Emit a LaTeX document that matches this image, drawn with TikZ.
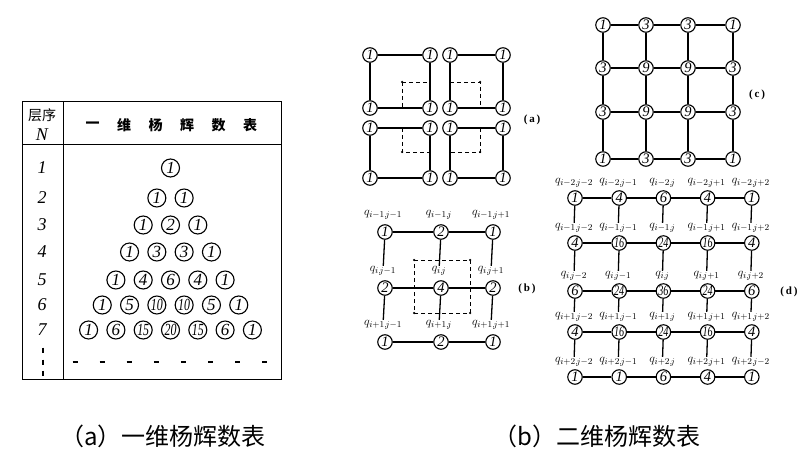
\documentclass[tikz,border=0pt]{standalone}
\usepackage{fontspec}
\usepackage{graphicx}
\setmainfont{Liberation Serif}
\newfontfamily\cjk{Noto Sans CJK SC}
\begin{document}
\begin{tikzpicture}[x=1pt,y=-1pt,
  cn/.style={circle,draw,line width=1.1pt,inner sep=0pt,minimum size=14.5pt,fill=white,font=\itshape\fontsize{14.5}{14.5}\selectfont},
  tn/.style={cn,minimum size=18pt,font=\itshape\fontsize{17}{17}\selectfont},
  gl/.style={line width=1.3pt},
  dsh/.style={line width=0.8pt,dash pattern=on 4pt off 3pt},
  ql/.style={font=\fontsize{13}{13}\selectfont,inner sep=0.5pt},
  pl/.style={font=\bfseries\fontsize{11}{11}\selectfont},
  dotc/.style={circle,fill,inner sep=0pt,minimum size=2.5pt}]
\useasboundingbox (0,0) rectangle (805,465);
% ---------------- table (a) ----------------
\draw[line width=1pt] (22,102) rectangle (281,379);
\draw[line width=1pt] (63,102) -- (63,379);
\draw[line width=1pt] (22,145) -- (281,145);
\node[font=\cjk\fontsize{14}{14}\selectfont] (hA) at (42,115) {层序};
\node[font=\itshape\fontsize{18}{18}\selectfont] (hN) at (42,135) {N};
\foreach \ch [count=\i] in {一,维,杨,辉,数,表}
  \node[font=\cjk\bfseries\fontsize{14}{14}\selectfont] (h\i) at ({61+\i*31.5},125) {\ch};
\foreach \n/\yy/\vals in {1/168/{1},2/198/{1,1},3/225/{1,2,1},4/252/{1,3,3,1},5/280/{1,4,6,4,1},6/305/{1,5,10,10,5,1},7/330/{1,6,15,20,15,6,1}}{
  \node[font=\itshape\fontsize{18}{18}\selectfont] (r\n) at (42,\yy) {\n};
  \foreach \v [count=\k] in \vals
    \node[tn] (t\n-\k) at ({170.5+(\k-1-(\n-1)/2)*27.3},\yy) {\ifnum\v>9 \scalebox{0.7}[1]{\v}\else\v\fi};
}
\foreach \i in {0,...,7}
  \draw[line width=1.5pt] ({75+\i*27.1-2.5},362) -- ({75+\i*27.1+2.5},362);
\foreach \yy in {350,362,373}
  \draw[line width=1.6pt] (43,\yy-2.5) -- (43,\yy+2.5);
% ---------------- panel (a) ----------------
\foreach \s/\xa/\xb/\ya/\yb in {1/370/430/55/108,2/450/503/55/108,3/370/430/128/178,4/450/503/128/178}{
  \node[cn] (a\s-1) at (\xa,\ya) {1};
  \node[cn] (a\s-2) at (\xb,\ya) {1};
  \node[cn] (a\s-3) at (\xa,\yb) {1};
  \node[cn] (a\s-4) at (\xb,\yb) {1};
  \draw[gl] (a\s-1) -- (a\s-2) -- (a\s-4) -- (a\s-3) -- (a\s-1);
}
\coordinate (q1) at (402,82); \coordinate (q2) at (480,82);
\coordinate (q3) at (402,152); \coordinate (q4) at (480,152);
\draw[dsh] (q1) -- (430,82) (q1) -- (402,108);
\draw[dsh] (450,82) -- (q2) -- (480,108);
\draw[dsh] (402,128) -- (q3) -- (430,152);
\draw[dsh] (480,128) -- (q4) -- (450,152);
\foreach \q in {q1,q2,q3,q4} \node[dotc] at (\q) {};
\node[pl] (la) at (532,120) {(\,a\,)};
% ---------------- panel (b) ----------------
\foreach \r/\yy/\ri/\vals in {1/232/{i-1}/{1,2,1},2/288/{i}/{2,4,2},3/342/{i+1}/{1,2,1}}{
  \foreach \v/\xx/\cj [count=\c] in {1/385/{j-1},2/441/{j},3/493/{j+1}}{
    \node[ql] (bl\r-\c) at (\xx-2,\yy-17) {$q_{\ri,\!\cj}$};
  }
  \foreach \v [count=\c] in \vals
    \node[cn] (b\r-\c) at ({\c==1?385:(\c==2?441:493)},\yy) {\v};
}
\foreach \r in {1,2,3}{
  \draw[gl] (b\r-1) -- (b\r-2) -- (b\r-3);
}
\foreach \r/\rr in {1/2,2/3}
  \foreach \c in {1,2,3}
    \draw[gl] (b\r-\c) -- (bl\rr-\c);
\coordinate (p1) at (414,260); \coordinate (p2) at (470,260);
\coordinate (p3) at (414,313); \coordinate (p4) at (470,313);
\draw[dsh] (p1) -- (p2) -- (p4) -- (p3) -- cycle;
\foreach \p in {p1,p2,p3,p4} \node[dotc] at (\p) {};
\node[pl] (lb) at (527,289) {(\,b\,)};
% ---------------- panel (c) ----------------
\foreach \r/\yy/\vals in {1/25/{1,3,3,1},2/68/{3,9,9,3},3/112/{3,9,9,3},4/159/{1,3,3,1}}
  \foreach \v [count=\c] in \vals
    \node[cn] (c\r-\c) at ({\c==1?603:(\c==2?646:(\c==3?688:733))},\yy) {\v};
\foreach \r in {1,...,4}
  \draw[gl] (c\r-1) -- (c\r-2) -- (c\r-3) -- (c\r-4);
\foreach \c in {1,...,4}
  \draw[gl] (c1-\c) -- (c2-\c) -- (c3-\c) -- (c4-\c);
\node[pl] (lc) at (757,95) {(\,c\,)};
% ---------------- panel (d) ----------------
\foreach \r/\yy/\ri/\cols/\vals in {
  1/198/{i-2}/{{j-2},{j-1},{j},{j+1},{j+2}}/{1,4,6,4,1},
  2/243/{i-1}/{{j-2},{j-1},{j},{j+1},{j+2}}/{4,16,24,16,4},
  3/291/{i}/{{j-2},{j-1},{j},{j+1},{j+2}}/{6,24,36,24,6},
  4/332/{i+1}/{{j-2},{j-1},{j},{j+1},{j+2}}/{4,16,24,16,4},
  5/377/{i+2}/{{j-2},{j-1},{j},{j+1},{j-2}}/{1,1,6,4,1}}{
  \foreach \cj [count=\c] in \cols
    \node[ql] (dl\r-\c) at ({575+(\c-1)*44.2-1},\yy-15) {$q_{\ri,\!\cj}$};
  \foreach \v [count=\c] in \vals
    \node[cn] (d\r-\c) at ({575+(\c-1)*44.2},\yy) {\ifnum\v>9 \scalebox{0.7}[1]{\v}\else\v\fi};
}
\foreach \r in {1,...,5}
  \draw[gl] (d\r-1) -- (d\r-2) -- (d\r-3) -- (d\r-4) -- (d\r-5);
\foreach \r/\rr in {1/2,2/3,3/4,4/5}
  \foreach \c in {1,...,5}
    \draw[gl] (d\r-\c) -- (dl\rr-\c);
\node[pl] (ld) at (789,292) {(\,d\,)};
% ---------------- captions ----------------
\node[font=\cjk\fontsize{24}{24}\selectfont] (capA) at (163,436) {（a）一维杨辉数表};
\node[font=\cjk\fontsize{24}{24}\selectfont] (capB) at (597,436) {（b）二维杨辉数表};
\end{tikzpicture}
\end{document}
